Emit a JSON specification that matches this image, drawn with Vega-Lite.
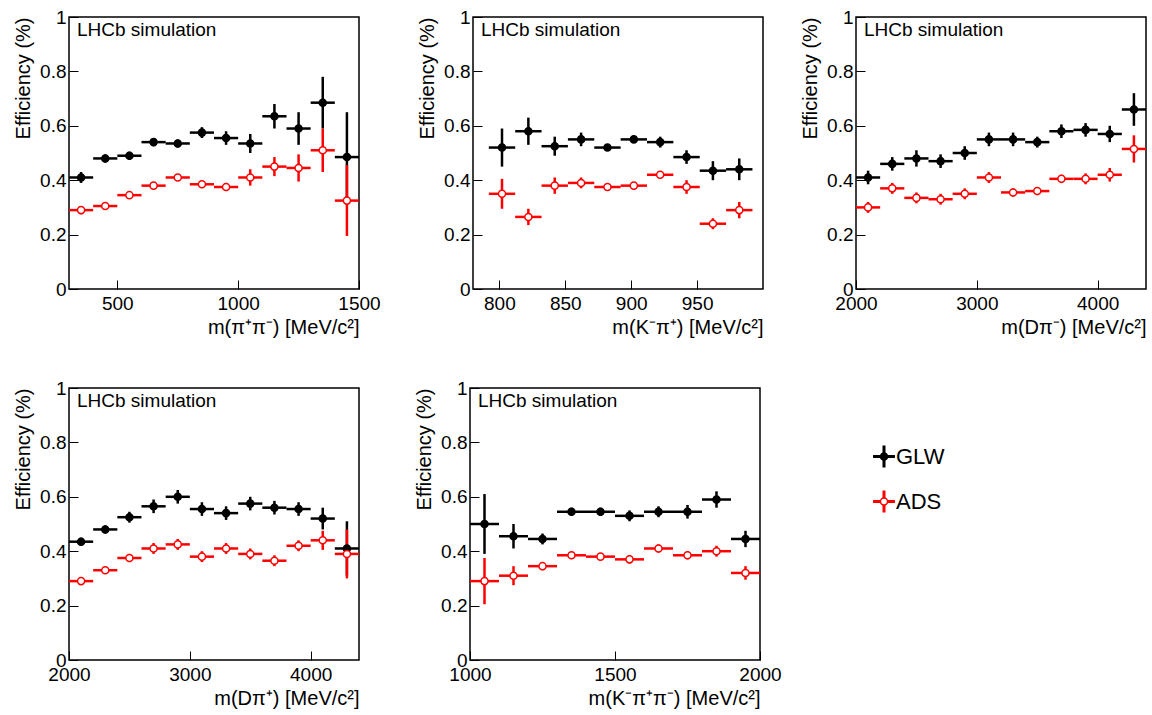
{
  "$schema": "https://vega.github.io/schema/vega-lite/v6.json",
  "padding": {"left": 12, "top": 7, "right": 0, "bottom": 0},
  "background": "white",
  "spacing": 40,
  "datasets": {
    "keys": [{"s": "GLW"}, {"s": "ADS"}],
    "pipi": [
      {"s": "GLW", "x": 350, "lo": 300, "hi": 400, "y": 0.41, "e": 0.02},
      {"s": "GLW", "x": 450, "lo": 400, "hi": 500, "y": 0.48, "e": 0.015},
      {"s": "GLW", "x": 550, "lo": 500, "hi": 600, "y": 0.49, "e": 0.015},
      {"s": "GLW", "x": 650, "lo": 600, "hi": 700, "y": 0.54, "e": 0.015},
      {"s": "GLW", "x": 750, "lo": 700, "hi": 800, "y": 0.535, "e": 0.015},
      {"s": "GLW", "x": 850, "lo": 800, "hi": 900, "y": 0.575, "e": 0.02},
      {"s": "GLW", "x": 950, "lo": 900, "hi": 1000, "y": 0.555, "e": 0.025},
      {"s": "GLW", "x": 1050, "lo": 1000, "hi": 1100, "y": 0.535, "e": 0.035},
      {"s": "GLW", "x": 1150, "lo": 1100, "hi": 1200, "y": 0.635, "e": 0.045},
      {"s": "GLW", "x": 1250, "lo": 1200, "hi": 1300, "y": 0.59, "e": 0.06},
      {"s": "GLW", "x": 1350, "lo": 1300, "hi": 1400, "y": 0.685, "e": 0.095},
      {"s": "GLW", "x": 1450, "lo": 1400, "hi": 1500, "y": 0.485, "e": 0.165},
      {"s": "ADS", "x": 350, "lo": 300, "hi": 400, "y": 0.29, "e": 0.015},
      {"s": "ADS", "x": 450, "lo": 400, "hi": 500, "y": 0.305, "e": 0.01},
      {"s": "ADS", "x": 550, "lo": 500, "hi": 600, "y": 0.345, "e": 0.01},
      {"s": "ADS", "x": 650, "lo": 600, "hi": 700, "y": 0.38, "e": 0.01},
      {"s": "ADS", "x": 750, "lo": 700, "hi": 800, "y": 0.41, "e": 0.01},
      {"s": "ADS", "x": 850, "lo": 800, "hi": 900, "y": 0.385, "e": 0.01},
      {"s": "ADS", "x": 950, "lo": 900, "hi": 1000, "y": 0.375, "e": 0.015},
      {"s": "ADS", "x": 1050, "lo": 1000, "hi": 1100, "y": 0.41, "e": 0.03},
      {"s": "ADS", "x": 1150, "lo": 1100, "hi": 1200, "y": 0.45, "e": 0.035},
      {"s": "ADS", "x": 1250, "lo": 1200, "hi": 1300, "y": 0.445, "e": 0.05},
      {"s": "ADS", "x": 1350, "lo": 1300, "hi": 1400, "y": 0.51, "e": 0.08},
      {"s": "ADS", "x": 1450, "lo": 1400, "hi": 1500, "y": 0.325, "e": 0.13}
    ],
    "kpi": [
      {"s": "GLW", "x": 802, "lo": 792, "hi": 812, "y": 0.52, "e": 0.07},
      {"s": "GLW", "x": 822, "lo": 812, "hi": 832, "y": 0.58, "e": 0.05},
      {"s": "GLW", "x": 842, "lo": 832, "hi": 852, "y": 0.525, "e": 0.035},
      {"s": "GLW", "x": 862, "lo": 852, "hi": 872, "y": 0.55, "e": 0.025},
      {"s": "GLW", "x": 882, "lo": 872, "hi": 892, "y": 0.52, "e": 0.01},
      {"s": "GLW", "x": 902, "lo": 892, "hi": 912, "y": 0.55, "e": 0.01},
      {"s": "GLW", "x": 922, "lo": 912, "hi": 932, "y": 0.54, "e": 0.02},
      {"s": "GLW", "x": 942, "lo": 932, "hi": 952, "y": 0.485, "e": 0.025},
      {"s": "GLW", "x": 962, "lo": 952, "hi": 972, "y": 0.435, "e": 0.035},
      {"s": "GLW", "x": 982, "lo": 972, "hi": 992, "y": 0.44, "e": 0.04},
      {"s": "ADS", "x": 802, "lo": 792, "hi": 812, "y": 0.35, "e": 0.055},
      {"s": "ADS", "x": 822, "lo": 812, "hi": 832, "y": 0.265, "e": 0.03},
      {"s": "ADS", "x": 842, "lo": 832, "hi": 852, "y": 0.38, "e": 0.03},
      {"s": "ADS", "x": 862, "lo": 852, "hi": 872, "y": 0.39, "e": 0.02},
      {"s": "ADS", "x": 882, "lo": 872, "hi": 892, "y": 0.375, "e": 0.01},
      {"s": "ADS", "x": 902, "lo": 892, "hi": 912, "y": 0.38, "e": 0.01},
      {"s": "ADS", "x": 922, "lo": 912, "hi": 932, "y": 0.42, "e": 0.01},
      {"s": "ADS", "x": 942, "lo": 932, "hi": 952, "y": 0.375, "e": 0.025},
      {"s": "ADS", "x": 962, "lo": 952, "hi": 972, "y": 0.24, "e": 0.02},
      {"s": "ADS", "x": 982, "lo": 972, "hi": 992, "y": 0.29, "e": 0.03}
    ],
    "dpim": [
      {"s": "GLW", "x": 2100, "lo": 2000, "hi": 2200, "y": 0.41, "e": 0.025},
      {"s": "GLW", "x": 2300, "lo": 2200, "hi": 2400, "y": 0.46, "e": 0.025},
      {"s": "GLW", "x": 2500, "lo": 2400, "hi": 2600, "y": 0.48, "e": 0.03},
      {"s": "GLW", "x": 2700, "lo": 2600, "hi": 2800, "y": 0.47, "e": 0.025},
      {"s": "GLW", "x": 2900, "lo": 2800, "hi": 3000, "y": 0.5, "e": 0.025},
      {"s": "GLW", "x": 3100, "lo": 3000, "hi": 3200, "y": 0.55, "e": 0.025},
      {"s": "GLW", "x": 3300, "lo": 3200, "hi": 3400, "y": 0.55, "e": 0.025},
      {"s": "GLW", "x": 3500, "lo": 3400, "hi": 3600, "y": 0.54, "e": 0.02},
      {"s": "GLW", "x": 3700, "lo": 3600, "hi": 3800, "y": 0.58, "e": 0.025},
      {"s": "GLW", "x": 3900, "lo": 3800, "hi": 4000, "y": 0.585, "e": 0.025},
      {"s": "GLW", "x": 4100, "lo": 4000, "hi": 4200, "y": 0.57, "e": 0.03},
      {"s": "GLW", "x": 4300, "lo": 4200, "hi": 4400, "y": 0.66, "e": 0.06},
      {"s": "ADS", "x": 2100, "lo": 2000, "hi": 2200, "y": 0.3, "e": 0.02},
      {"s": "ADS", "x": 2300, "lo": 2200, "hi": 2400, "y": 0.37, "e": 0.02},
      {"s": "ADS", "x": 2500, "lo": 2400, "hi": 2600, "y": 0.335, "e": 0.02},
      {"s": "ADS", "x": 2700, "lo": 2600, "hi": 2800, "y": 0.33, "e": 0.02},
      {"s": "ADS", "x": 2900, "lo": 2800, "hi": 3000, "y": 0.35, "e": 0.02},
      {"s": "ADS", "x": 3100, "lo": 3000, "hi": 3200, "y": 0.41, "e": 0.02},
      {"s": "ADS", "x": 3300, "lo": 3200, "hi": 3400, "y": 0.355, "e": 0.015},
      {"s": "ADS", "x": 3500, "lo": 3400, "hi": 3600, "y": 0.36, "e": 0.015},
      {"s": "ADS", "x": 3700, "lo": 3600, "hi": 3800, "y": 0.405, "e": 0.015},
      {"s": "ADS", "x": 3900, "lo": 3800, "hi": 4000, "y": 0.405, "e": 0.02},
      {"s": "ADS", "x": 4100, "lo": 4000, "hi": 4200, "y": 0.42, "e": 0.025},
      {"s": "ADS", "x": 4300, "lo": 4200, "hi": 4400, "y": 0.515, "e": 0.05}
    ],
    "dpip": [
      {"s": "GLW", "x": 2100, "lo": 2000, "hi": 2200, "y": 0.435, "e": 0.015},
      {"s": "GLW", "x": 2300, "lo": 2200, "hi": 2400, "y": 0.48, "e": 0.015},
      {"s": "GLW", "x": 2500, "lo": 2400, "hi": 2600, "y": 0.525, "e": 0.02},
      {"s": "GLW", "x": 2700, "lo": 2600, "hi": 2800, "y": 0.565, "e": 0.025},
      {"s": "GLW", "x": 2900, "lo": 2800, "hi": 3000, "y": 0.6, "e": 0.025},
      {"s": "GLW", "x": 3100, "lo": 3000, "hi": 3200, "y": 0.555, "e": 0.025},
      {"s": "GLW", "x": 3300, "lo": 3200, "hi": 3400, "y": 0.54, "e": 0.025},
      {"s": "GLW", "x": 3500, "lo": 3400, "hi": 3600, "y": 0.575, "e": 0.025},
      {"s": "GLW", "x": 3700, "lo": 3600, "hi": 3800, "y": 0.56, "e": 0.025},
      {"s": "GLW", "x": 3900, "lo": 3800, "hi": 4000, "y": 0.555, "e": 0.025},
      {"s": "GLW", "x": 4100, "lo": 4000, "hi": 4200, "y": 0.52, "e": 0.04},
      {"s": "GLW", "x": 4300, "lo": 4200, "hi": 4400, "y": 0.41, "e": 0.1},
      {"s": "ADS", "x": 2100, "lo": 2000, "hi": 2200, "y": 0.29, "e": 0.01},
      {"s": "ADS", "x": 2300, "lo": 2200, "hi": 2400, "y": 0.33, "e": 0.01},
      {"s": "ADS", "x": 2500, "lo": 2400, "hi": 2600, "y": 0.375, "e": 0.015},
      {"s": "ADS", "x": 2700, "lo": 2600, "hi": 2800, "y": 0.41, "e": 0.02},
      {"s": "ADS", "x": 2900, "lo": 2800, "hi": 3000, "y": 0.425, "e": 0.02},
      {"s": "ADS", "x": 3100, "lo": 3000, "hi": 3200, "y": 0.38, "e": 0.02},
      {"s": "ADS", "x": 3300, "lo": 3200, "hi": 3400, "y": 0.41, "e": 0.02},
      {"s": "ADS", "x": 3500, "lo": 3400, "hi": 3600, "y": 0.39, "e": 0.02},
      {"s": "ADS", "x": 3700, "lo": 3600, "hi": 3800, "y": 0.365, "e": 0.02},
      {"s": "ADS", "x": 3900, "lo": 3800, "hi": 4000, "y": 0.42, "e": 0.02},
      {"s": "ADS", "x": 4100, "lo": 4000, "hi": 4200, "y": 0.44, "e": 0.035},
      {"s": "ADS", "x": 4300, "lo": 4200, "hi": 4400, "y": 0.39, "e": 0.09}
    ],
    "kpipi": [
      {"s": "GLW", "x": 1050, "lo": 1000, "hi": 1100, "y": 0.5, "e": 0.11},
      {"s": "GLW", "x": 1150, "lo": 1100, "hi": 1200, "y": 0.455, "e": 0.045},
      {"s": "GLW", "x": 1250, "lo": 1200, "hi": 1300, "y": 0.445, "e": 0.02},
      {"s": "GLW", "x": 1350, "lo": 1300, "hi": 1400, "y": 0.545, "e": 0.015},
      {"s": "GLW", "x": 1450, "lo": 1400, "hi": 1500, "y": 0.545, "e": 0.015},
      {"s": "GLW", "x": 1550, "lo": 1500, "hi": 1600, "y": 0.53, "e": 0.02},
      {"s": "GLW", "x": 1650, "lo": 1600, "hi": 1700, "y": 0.545, "e": 0.02},
      {"s": "GLW", "x": 1750, "lo": 1700, "hi": 1800, "y": 0.545, "e": 0.025},
      {"s": "GLW", "x": 1850, "lo": 1800, "hi": 1900, "y": 0.59, "e": 0.03},
      {"s": "GLW", "x": 1950, "lo": 1900, "hi": 2000, "y": 0.445, "e": 0.03},
      {"s": "ADS", "x": 1050, "lo": 1000, "hi": 1100, "y": 0.29, "e": 0.085},
      {"s": "ADS", "x": 1150, "lo": 1100, "hi": 1200, "y": 0.31, "e": 0.035},
      {"s": "ADS", "x": 1250, "lo": 1200, "hi": 1300, "y": 0.345, "e": 0.015},
      {"s": "ADS", "x": 1350, "lo": 1300, "hi": 1400, "y": 0.385, "e": 0.01},
      {"s": "ADS", "x": 1450, "lo": 1400, "hi": 1500, "y": 0.38, "e": 0.01},
      {"s": "ADS", "x": 1550, "lo": 1500, "hi": 1600, "y": 0.37, "e": 0.015},
      {"s": "ADS", "x": 1650, "lo": 1600, "hi": 1700, "y": 0.41, "e": 0.015},
      {"s": "ADS", "x": 1750, "lo": 1700, "hi": 1800, "y": 0.385, "e": 0.015},
      {"s": "ADS", "x": 1850, "lo": 1800, "hi": 1900, "y": 0.4, "e": 0.02},
      {"s": "ADS", "x": 1950, "lo": 1900, "hi": 2000, "y": 0.32, "e": 0.025}
    ]
  },
  "vconcat": [
    {
      "spacing": 35,
      "hconcat": [
        {
          "width": 290, "height": 272,
          "data": {"name": "pipi"},
          "transform": [{"calculate": "datum.y - datum.e", "as": "y0"}, {"calculate": "datum.y + datum.e", "as": "y1"}],
          "title": {"text": "LHCb simulation"},
          "encoding": {
            "color": {"field": "s", "type": "nominal", "scale": {"domain": ["GLW", "ADS"], "range": ["black", "red"]}, "legend": null}
          },
          "layer": [
            {"mark": {"type": "rule", "strokeWidth": 2.5}, "encoding": {"x": {"field": "lo", "type": "quantitative", "scale": {"domain": [300, 1500]}, "axis": {"title": "m(π⁺π⁻) [MeV/c²]", "values": [500, 1000, 1500]}}, "x2": {"field": "hi"}, "y": {"field": "y", "type": "quantitative", "scale": {"domain": [0, 1]}, "axis": {"title": "Efficiency (%)"}}}},
            {"mark": {"type": "rule", "strokeWidth": 2.5}, "encoding": {"x": {"field": "x", "type": "quantitative"}, "y": {"field": "y0", "type": "quantitative"}, "y2": {"field": "y1"}}},
            {"mark": {"type": "point", "filled": true, "size": 50, "opacity": 1}, "encoding": {"x": {"field": "x", "type": "quantitative"}, "y": {"field": "y", "type": "quantitative"}, "fill": {"field": "s", "type": "nominal", "scale": {"domain": ["GLW", "ADS"], "range": ["black", "white"]}, "legend": null}, "stroke": {"field": "s", "type": "nominal", "scale": {"domain": ["GLW", "ADS"], "range": ["black", "red"]}, "legend": null}, "strokeWidth": {"value": 1.5}}}
          ]
        },
        {
          "width": 290, "height": 272,
          "data": {"name": "kpi"},
          "transform": [{"calculate": "datum.y - datum.e", "as": "y0"}, {"calculate": "datum.y + datum.e", "as": "y1"}],
          "title": {"text": "LHCb simulation"},
          "encoding": {
            "color": {"field": "s", "type": "nominal", "scale": {"domain": ["GLW", "ADS"], "range": ["black", "red"]}, "legend": null}
          },
          "layer": [
            {"mark": {"type": "rule", "strokeWidth": 2.5}, "encoding": {"x": {"field": "lo", "type": "quantitative", "scale": {"domain": [792, 992]}, "axis": {"title": "m(K⁻π⁺) [MeV/c²]", "values": [800, 850, 900, 950]}}, "x2": {"field": "hi"}, "y": {"field": "y", "type": "quantitative", "scale": {"domain": [0, 1]}, "axis": {"title": "Efficiency (%)"}}}},
            {"mark": {"type": "rule", "strokeWidth": 2.5}, "encoding": {"x": {"field": "x", "type": "quantitative"}, "y": {"field": "y0", "type": "quantitative"}, "y2": {"field": "y1"}}},
            {"mark": {"type": "point", "filled": true, "size": 50, "opacity": 1}, "encoding": {"x": {"field": "x", "type": "quantitative"}, "y": {"field": "y", "type": "quantitative"}, "fill": {"field": "s", "type": "nominal", "scale": {"domain": ["GLW", "ADS"], "range": ["black", "white"]}, "legend": null}, "stroke": {"field": "s", "type": "nominal", "scale": {"domain": ["GLW", "ADS"], "range": ["black", "red"]}, "legend": null}, "strokeWidth": {"value": 1.5}}}
          ]
        },
        {
          "width": 290, "height": 272,
          "data": {"name": "dpim"},
          "transform": [{"calculate": "datum.y - datum.e", "as": "y0"}, {"calculate": "datum.y + datum.e", "as": "y1"}],
          "title": {"text": "LHCb simulation"},
          "encoding": {
            "color": {"field": "s", "type": "nominal", "scale": {"domain": ["GLW", "ADS"], "range": ["black", "red"]}, "legend": null}
          },
          "layer": [
            {"mark": {"type": "rule", "strokeWidth": 2.5}, "encoding": {"x": {"field": "lo", "type": "quantitative", "scale": {"domain": [2000, 4400]}, "axis": {"title": "m(Dπ⁻) [MeV/c²]", "values": [2000, 3000, 4000]}}, "x2": {"field": "hi"}, "y": {"field": "y", "type": "quantitative", "scale": {"domain": [0, 1]}, "axis": {"title": "Efficiency (%)"}}}},
            {"mark": {"type": "rule", "strokeWidth": 2.5}, "encoding": {"x": {"field": "x", "type": "quantitative"}, "y": {"field": "y0", "type": "quantitative"}, "y2": {"field": "y1"}}},
            {"mark": {"type": "point", "filled": true, "size": 50, "opacity": 1}, "encoding": {"x": {"field": "x", "type": "quantitative"}, "y": {"field": "y", "type": "quantitative"}, "fill": {"field": "s", "type": "nominal", "scale": {"domain": ["GLW", "ADS"], "range": ["black", "white"]}, "legend": null}, "stroke": {"field": "s", "type": "nominal", "scale": {"domain": ["GLW", "ADS"], "range": ["black", "red"]}, "legend": null}, "strokeWidth": {"value": 1.5}}}
          ]
        }
      ]
    },
    {
      "spacing": 52,
      "hconcat": [
        {
          "width": 290, "height": 272,
          "data": {"name": "dpip"},
          "transform": [{"calculate": "datum.y - datum.e", "as": "y0"}, {"calculate": "datum.y + datum.e", "as": "y1"}],
          "title": {"text": "LHCb simulation"},
          "encoding": {
            "color": {"field": "s", "type": "nominal", "scale": {"domain": ["GLW", "ADS"], "range": ["black", "red"]}, "legend": null}
          },
          "layer": [
            {"mark": {"type": "rule", "strokeWidth": 2.5}, "encoding": {"x": {"field": "lo", "type": "quantitative", "scale": {"domain": [2000, 4400]}, "axis": {"title": "m(Dπ⁺) [MeV/c²]", "values": [2000, 3000, 4000]}}, "x2": {"field": "hi"}, "y": {"field": "y", "type": "quantitative", "scale": {"domain": [0, 1]}, "axis": {"title": "Efficiency (%)"}}}},
            {"mark": {"type": "rule", "strokeWidth": 2.5}, "encoding": {"x": {"field": "x", "type": "quantitative"}, "y": {"field": "y0", "type": "quantitative"}, "y2": {"field": "y1"}}},
            {"mark": {"type": "point", "filled": true, "size": 50, "opacity": 1}, "encoding": {"x": {"field": "x", "type": "quantitative"}, "y": {"field": "y", "type": "quantitative"}, "fill": {"field": "s", "type": "nominal", "scale": {"domain": ["GLW", "ADS"], "range": ["black", "white"]}, "legend": null}, "stroke": {"field": "s", "type": "nominal", "scale": {"domain": ["GLW", "ADS"], "range": ["black", "red"]}, "legend": null}, "strokeWidth": {"value": 1.5}}}
          ]
        },
        {
          "width": 290, "height": 272,
          "data": {"name": "kpipi"},
          "transform": [{"calculate": "datum.y - datum.e", "as": "y0"}, {"calculate": "datum.y + datum.e", "as": "y1"}],
          "title": {"text": "LHCb simulation"},
          "encoding": {
            "color": {"field": "s", "type": "nominal", "scale": {"domain": ["GLW", "ADS"], "range": ["black", "red"]}, "legend": null}
          },
          "layer": [
            {"mark": {"type": "rule", "strokeWidth": 2.5}, "encoding": {"x": {"field": "lo", "type": "quantitative", "scale": {"domain": [1000, 2000]}, "axis": {"title": "m(K⁻π⁺π⁻) [MeV/c²]", "values": [1000, 1500, 2000]}}, "x2": {"field": "hi"}, "y": {"field": "y", "type": "quantitative", "scale": {"domain": [0, 1]}, "axis": {"title": "Efficiency (%)"}}}},
            {"mark": {"type": "rule", "strokeWidth": 2.5}, "encoding": {"x": {"field": "x", "type": "quantitative"}, "y": {"field": "y0", "type": "quantitative"}, "y2": {"field": "y1"}}},
            {"mark": {"type": "point", "filled": true, "size": 50, "opacity": 1}, "encoding": {"x": {"field": "x", "type": "quantitative"}, "y": {"field": "y", "type": "quantitative"}, "fill": {"field": "s", "type": "nominal", "scale": {"domain": ["GLW", "ADS"], "range": ["black", "white"]}, "legend": null}, "stroke": {"field": "s", "type": "nominal", "scale": {"domain": ["GLW", "ADS"], "range": ["black", "red"]}, "legend": null}, "strokeWidth": {"value": 1.5}}}
          ]
        },
        {
          "width": 100, "height": 180,
          "view": {"stroke": null},
          "data": {"name": "keys"},
          "encoding": {
            "x": {"datum": 1, "type": "quantitative", "scale": {"domain": [0, 2]}, "axis": null},
            "y": {"field": "s", "type": "ordinal", "scale": {"type": "point", "domain": ["GLW", "ADS"], "range": [46, 136], "padding": 0.5}, "axis": null},
            "color": {"field": "s", "type": "nominal", "scale": {"domain": ["GLW", "ADS"], "range": ["black", "red"]}, "legend": null}
          },
          "layer": [
            {"mark": {"type": "point", "shape": "M-1,0L1,0M0,-1L0,1", "size": 480, "strokeWidth": 3, "filled": false, "opacity": 1}},
            {"mark": {"type": "point", "filled": true, "size": 50, "opacity": 1, "strokeWidth": 1.5}, "encoding": {"fill": {"field": "s", "type": "nominal", "scale": {"domain": ["GLW", "ADS"], "range": ["black", "white"]}, "legend": null}, "stroke": {"field": "s", "type": "nominal", "scale": {"domain": ["GLW", "ADS"], "range": ["black", "red"]}, "legend": null}}},
            {"mark": {"type": "text", "align": "left", "baseline": "middle", "dx": 12, "fontSize": 22, "color": "black"}, "encoding": {"text": {"field": "s"}, "color": {"value": "black"}}}
          ]
        }
      ]
    }
  ],
  "config": {
    "font": "Liberation Sans",
    "view": {"stroke": "black", "strokeWidth": 1.5},
    "title": {"anchor": "start", "frame": "group", "offset": -32, "dx": 8, "fontSize": 19, "fontWeight": "normal", "color": "black"},
    "axis": {"grid": false, "domain": false, "tickColor": "black", "tickSize": -9, "tickWidth": 1, "labelFontSize": 19, "labelColor": "black", "titleFontSize": 20, "titleFontWeight": "normal", "titleColor": "black", "labelPadding": 14},
    "axisX": {"titleAnchor": "end", "titleAlign": "right", "titlePadding": 4, "labelFlush": false, "format": "d"},
    "axisY": {"titleAnchor": "end", "titleAlign": "right", "values": [0, 0.2, 0.4, 0.6, 0.8, 1], "format": "~g", "titlePadding": 6, "labelPadding": 12}
  }
}
